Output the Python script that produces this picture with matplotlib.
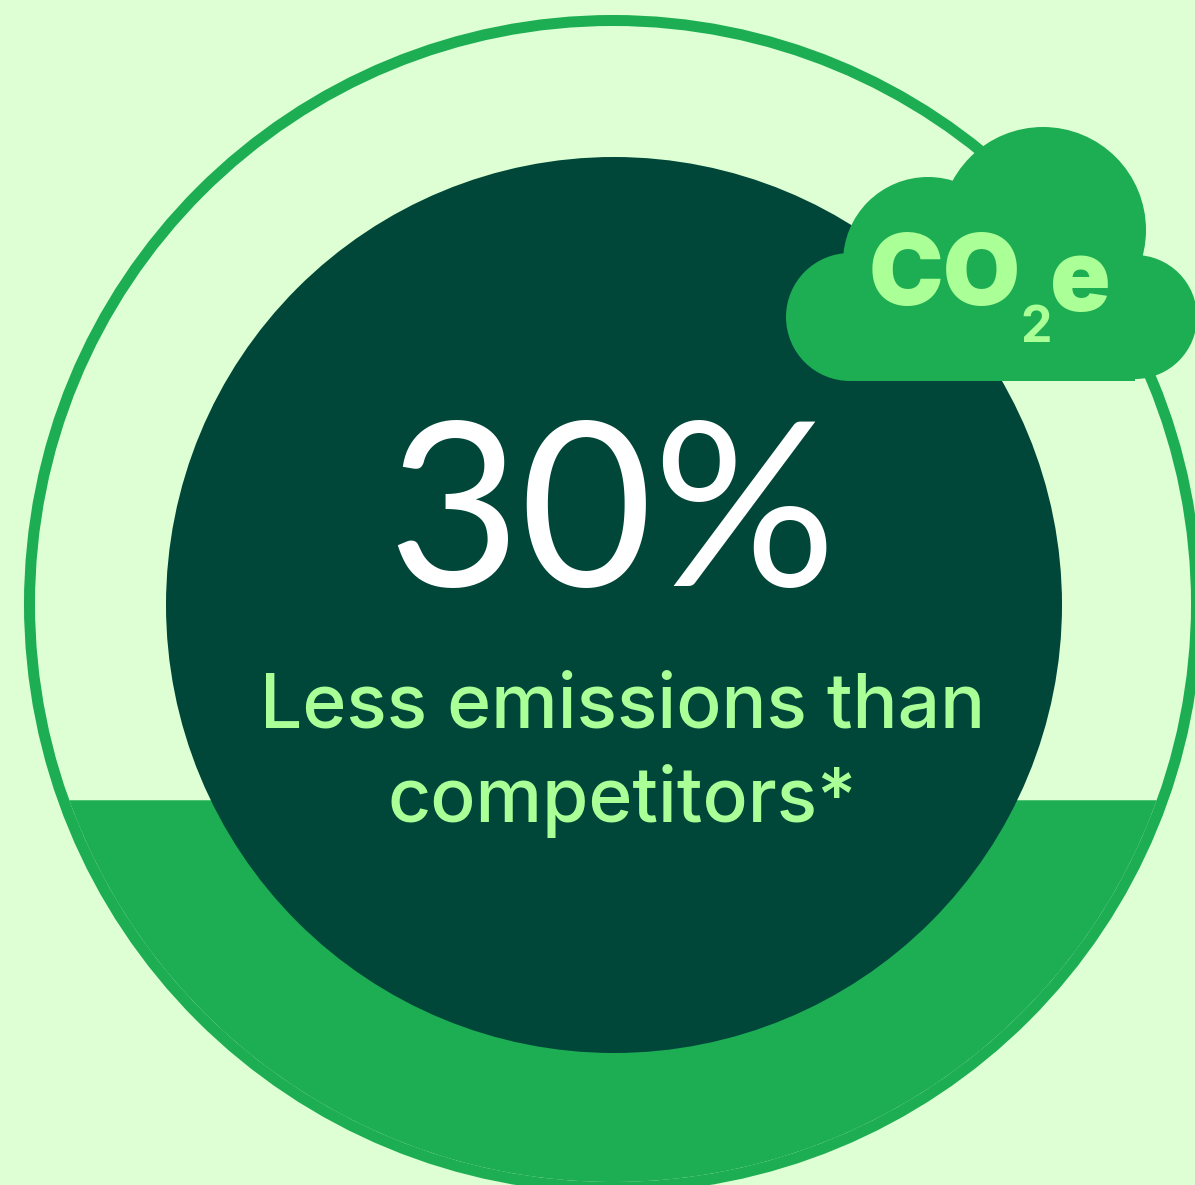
"""Gauge style infographic: 30% less emissions, filled from the bottom of a ring."""

import matplotlib

matplotlib.use("Agg")
import matplotlib.pyplot as plt
import numpy as np
from matplotlib.patches import Circle, Polygon, Rectangle

BG = "#DDFFD3"
GREEN = "#1DAD53"
DARK = "#004739"
LIME = "#ABFF97"

SHARE = 30
HEADLINE = f"{SHARE}%"
CAPTION = ["Less emissions than", "competitors*"]

W, H = 1195, 1185
CX, CY = 613, 605
R_OUTER, R_INNER, R_CORE = 589, 578, 448
FILL_TOP = 800

# cloud lobes: x, y, r
CLOUD_LOBES = [(1043, 230, 103), (928, 262, 85), (850, 317, 64), (1135, 317, 62)]

fig = plt.figure(figsize=(W / 100, H / 100), dpi=100, facecolor=BG)
ax = fig.add_axes([0, 0, 1, 1])
ax.set_xlim(0, W)
ax.set_ylim(H, 0)
ax.axis("off")

ax.add_patch(Circle((CX, CY - 1), R_OUTER, facecolor=GREEN, edgecolor="none", zorder=1))
ax.add_patch(Circle((CX, CY - 1), R_INNER, facecolor=BG, edgecolor="none", zorder=2))

# lower part of the ring interior is filled up to FILL_TOP
theta = np.linspace(0, np.pi, 400)
xs = CX + R_INNER * np.cos(theta)
ys = CY - 1 + R_INNER * np.sin(theta)
keep = ys >= FILL_TOP
ax.add_patch(Polygon(np.column_stack([xs[keep], ys[keep]]), closed=True,
                     facecolor=GREEN, edgecolor="none", zorder=3))

ax.add_patch(Circle((614, 605), R_CORE, facecolor=DARK, edgecolor="none", zorder=4))

for x, y, r in CLOUD_LOBES:
    ax.add_patch(Circle((x, y), r, facecolor=GREEN, edgecolor="none", zorder=5))
ax.add_patch(Rectangle((850, 300), 285, 81, facecolor=GREEN, edgecolor="none", zorder=5))

ax.text(612, 521, HEADLINE, color="white", fontsize=165, family="Lato", weight="normal",
        ha="center", va="center", zorder=6)
ax.text(623, 708, CAPTION[0], color=LIME, fontsize=54, family="Inter", weight="medium",
        ha="center", va="center", zorder=6)
ax.text(622, 801, CAPTION[1], color=LIME, fontsize=54, family="Inter", weight="medium",
        ha="center", va="center", zorder=6)

ax.text(945, 279, "CO", color=LIME, fontsize=72, family="Inter", weight="black",
        ha="center", va="center", zorder=6)
ax.text(1036, 328, "2", color=LIME, fontsize=36, family="Inter", weight="bold",
        ha="center", va="center", zorder=6)
ax.text(1080, 284, "e", color=LIME, fontsize=72, family="Inter", weight="black",
        ha="center", va="center", zorder=6)

fig.savefig("out.png", dpi=100, facecolor=BG)
